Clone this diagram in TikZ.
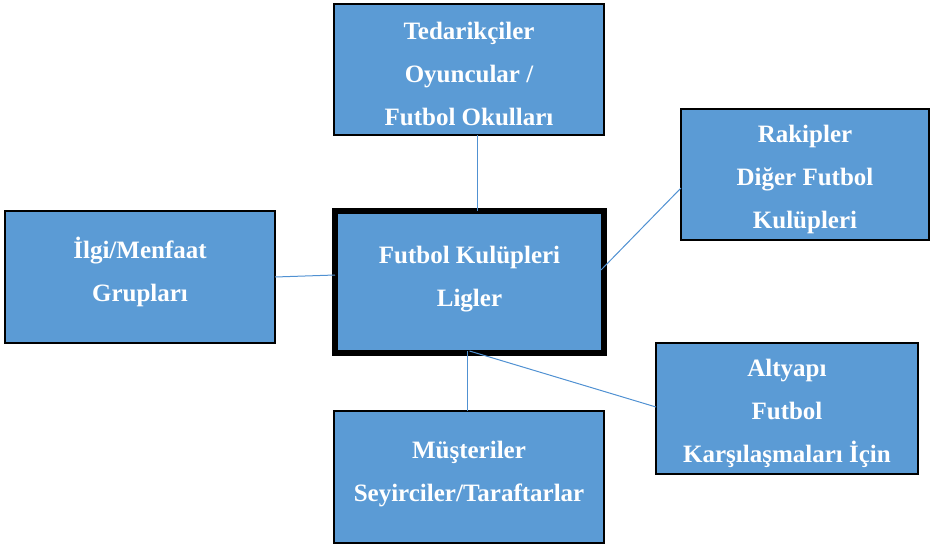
\documentclass[tikz,border=0pt]{standalone}
\usepackage{fontspec}
\setmainfont{Liberation Serif}
\definecolor{boxblue}{RGB}{91,155,213}
\definecolor{lineblue}{RGB}{80,145,210}
\begin{document}
\begin{tikzpicture}[x=1pt,y=-1pt,
  box/.style={draw=black, line width=1.5pt, fill=boxblue, inner sep=0pt, outer sep=0pt},
  txt/.style={text=white, inner sep=0pt, align=center, font=\fontsize{25}{43}\selectfont\bfseries},
  conn/.style={draw=lineblue, line width=1pt}]
\useasboundingbox (0,0) rectangle (930,547);
\node[box, minimum width=270, minimum height=131] (top) at (469,69.5) {};
\node[box, line width=6pt, minimum width=269, minimum height=142] (mid) at (469.5,282) {};
\node[box, minimum width=248, minimum height=131] (rtop) at (805,174.5) {};
\node[box, minimum width=270, minimum height=132] (left) at (140,277) {};
\node[box, minimum width=262, minimum height=131] (rbot) at (787,408.5) {};
\node[box, minimum width=270, minimum height=132] (bot) at (469,477) {};
\node[txt] (toptxt) at ([yshift=-4pt]top.center) {Tedarikçiler\\Oyuncular /\\Futbol Okulları};
\node[txt] (midtxt) at ([yshift=3pt]mid.center) {Futbol Kulüpleri\\Ligler};
\node[txt] (rtoptxt) at ([yshift=-5pt]rtop.center) {Rakipler\\Diğer Futbol\\Kulüpleri};
\node[txt] (lefttxt) at ([yshift=5.5pt]left.center) {İlgi/Menfaat\\Grupları};
\node[txt] (rbottxt) at ([yshift=-5pt]rbot.center) {Altyapı\\Futbol\\Karşılaşmaları İçin};
\node[txt] (bottxt) at ([yshift=3pt]bot.center) {Müşteriler\\Seyirciler/Taraftarlar};
\draw[conn] ([xshift=8pt]top.south) -- ([xshift=7.5pt]mid.north);
\draw[conn] (left.east) -- ([yshift=7pt]mid.west);
\draw[conn] ([xshift=-3pt,yshift=12pt]mid.east) -- ([yshift=-13.5pt]rtop.west);
\draw[conn] ([xshift=-2.5pt,yshift=2pt]mid.south) -- ([xshift=-2pt]bot.north);
\draw[conn] ([yshift=2pt]mid.south) -- ([yshift=1.5pt]rbot.west);
\end{tikzpicture}
\end{document}
